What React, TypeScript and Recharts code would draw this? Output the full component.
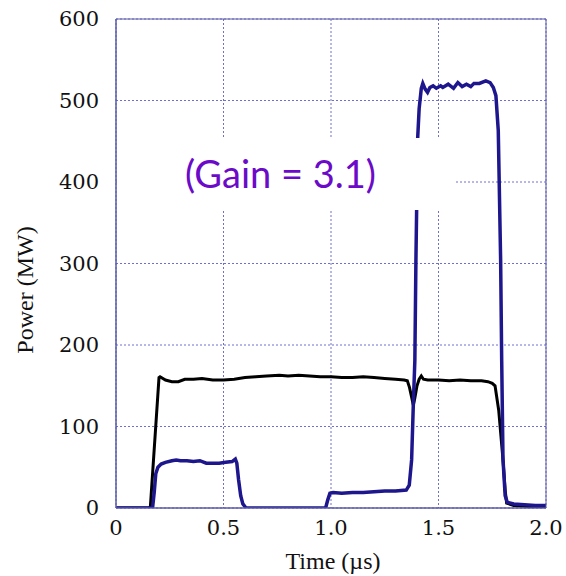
import React from "react";
import {
  LineChart,
  Line,
  XAxis,
  YAxis,
  CartesianGrid,
  Label,
} from "recharts";

// input pulse (black)
const inputTime = [
  0, 0.155, 0.16, 0.2, 0.205, 0.23, 0.26, 0.29, 0.32, 0.36, 0.4, 0.45, 0.5,
  0.55, 0.6, 0.65, 0.7, 0.76, 0.8, 0.85, 0.9, 0.95, 1.0, 1.05, 1.1, 1.15, 1.2,
  1.25, 1.3, 1.34, 1.355, 1.365, 1.375, 1.383, 1.39, 1.4, 1.41, 1.42, 1.43,
  1.45, 1.5, 1.55, 1.6, 1.65, 1.7, 1.73, 1.75, 1.763, 1.78, 1.8, 1.81, 1.817,
  1.85, 1.9, 2.0,
];
const inputPower = [
  0, 0, 2, 160, 161, 157, 155, 155, 158, 158, 159, 157, 157, 158, 160, 161,
  162, 163, 162, 163, 162, 161, 161, 160, 160, 161, 160, 159, 158, 157, 156,
  148, 136, 126, 135, 150, 158, 162, 158, 157, 157, 156, 157, 156, 156, 155,
  153, 150, 120, 59, 22, 6, 3, 2, 1,
];

// output pulse (blue)
const outputTime = [
  0, 0.17, 0.178, 0.185, 0.195, 0.21, 0.23, 0.26, 0.28, 0.3, 0.33, 0.36, 0.39,
  0.42, 0.45, 0.48, 0.51, 0.54, 0.555, 0.562, 0.57, 0.58, 0.59, 0.605, 0.975,
  0.985, 0.995, 1.01, 1.05, 1.1, 1.15, 1.2, 1.25, 1.3, 1.35, 1.364, 1.375,
  1.383, 1.39, 1.395, 1.403, 1.41, 1.42, 1.427, 1.438, 1.449, 1.46, 1.475,
  1.49, 1.51, 1.52, 1.545, 1.57, 1.59, 1.61, 1.63, 1.65, 1.665, 1.69, 1.72,
  1.74, 1.755, 1.767, 1.778, 1.789, 1.794, 1.8, 1.81, 1.82, 1.85, 1.9, 1.95,
  2.0,
];
const outputPower = [
  0, 0, 20, 42, 50, 54, 56, 58, 59, 58, 58, 57, 58, 55, 55, 55, 56, 57, 60, 55,
  35, 15, 5, 0, 0, 10, 18, 19, 18, 19, 19, 20, 21, 21, 22, 28, 59, 128, 181,
  304, 453, 490, 515, 521, 514, 510, 516, 518, 515, 518, 516, 520, 515, 522,
  517, 520, 517, 521, 521, 524, 522, 516, 506, 463, 304, 180, 60, 15, 7, 5, 4,
  3, 3,
];

const xTicks = [0, 0.5, 1.0, 1.5, 2.0];
const yTicks = [0, 100, 200, 300, 400, 500, 600];

const inputData = inputTime.map((t, i) => ({ t, p: inputPower[i] }));
const outputData = outputTime.map((t, i) => ({ t, p: outputPower[i] }));

const serif = "'Liberation Serif', 'Times New Roman', serif";
const frame = "#5b5ba8";
const serifText = { fontFamily: serif, fontSize: 24, fill: "#111" };
// Liberation Serif digits come out sans here, so numbers use DejaVu Serif
const tickText = { fontFamily: "'DejaVu Serif', serif", fontSize: 21, fill: "#111" };

const XTick = (props: any) => {
  const { x, y, payload } = props;
  const v = payload.value as number;
  return (
    <text x={x} y={y + 27} textAnchor="middle" style={tickText}>
      {v === 0 ? "0" : v.toFixed(1)}
    </text>
  );
};

const YTick = (props: any) => {
  const { x, y, payload } = props;
  return (
    <text x={x} y={y + 7} textAnchor="end" style={tickText}>
      {payload.value}
    </text>
  );
};

export default function App() {
  return (
    <div
      style={{
        position: "absolute",
        left: 0,
        top: 0,
        width: 566,
        height: 576,
        background: "#fff",
      }}
    >
      <LineChart
        width={566}
        height={576}
        margin={{ top: 19, right: 20, bottom: 0, left: 0 }}
      >
        <CartesianGrid
          xAxisId="x"
          yAxisId="y"
          stroke="#6f6fd0"
          strokeDasharray="2 2"
        />
        <XAxis
          xAxisId="x"
          type="number"
          dataKey="t"
          domain={[0, 2]}
          ticks={xTicks}
          allowDataOverflow
          height={68}
          tickSize={0}
          tickMargin={0}
          tickLine={false}
          stroke={frame}
          tick={XTick}
        >
          <Label
            content={() => (
              <text x={333} y={569} textAnchor="middle" style={serifText}>
                Time (µs)
              </text>
            )}
          />
        </XAxis>
        <XAxis
          xAxisId="xb"
          type="number"
          domain={[0, 2]}
          ticks={xTicks}
          allowDataOverflow
          mirror
          tick={false}
          tickSize={5}
          stroke={frame}
        />
        <XAxis
          xAxisId="xt"
          orientation="top"
          type="number"
          domain={[0, 2]}
          ticks={xTicks}
          allowDataOverflow
          mirror
          tick={false}
          tickSize={5}
          stroke={frame}
        />
        <YAxis
          yAxisId="y"
          type="number"
          domain={[0, 600]}
          ticks={yTicks}
          allowDataOverflow
          width={116}
          tickSize={0}
          tickMargin={17}
          tickLine={false}
          stroke={frame}
          tick={YTick}
        >
          <Label
            content={() => (
              <text
                x={33}
                y={290}
                transform="rotate(-90 33 290)"
                textAnchor="middle"
                style={serifText}
              >
                Power (MW)
              </text>
            )}
          />
        </YAxis>
        <YAxis
          yAxisId="yl"
          type="number"
          domain={[0, 600]}
          ticks={yTicks}
          allowDataOverflow
          mirror
          tick={false}
          tickSize={5}
          stroke={frame}
        />
        <YAxis
          yAxisId="yr"
          orientation="right"
          type="number"
          domain={[0, 600]}
          ticks={yTicks}
          allowDataOverflow
          mirror
          tick={false}
          tickSize={5}
          stroke={frame}
        />
        <Line
          xAxisId="x"
          yAxisId="y"
          data={inputData}
          dataKey="p"
          type="linear"
          stroke="#000"
          strokeWidth={3}
          dot={false}
          isAnimationActive={false}
        />
        <Line
          xAxisId="x"
          yAxisId="y"
          data={outputData}
          dataKey="p"
          type="linear"
          stroke="#1d168c"
          strokeWidth={3.5}
          dot={false}
          isAnimationActive={false}
        />
      </LineChart>
      <div
        style={{
          position: "absolute",
          left: 117,
          top: 138,
          width: 337,
          height: 72,
          background: "#fff",
        }}
      >
        <div
          style={{
            position: "absolute",
            left: 68,
            top: 11,
            fontFamily: "Lato, 'Open Sans', sans-serif",
            fontSize: 38,
            lineHeight: "48px",
            color: "#6b0ac9",
            whiteSpace: "nowrap",
          }}
        >
          (Gain = 3.1)
        </div>
      </div>
    </div>
  );
}
